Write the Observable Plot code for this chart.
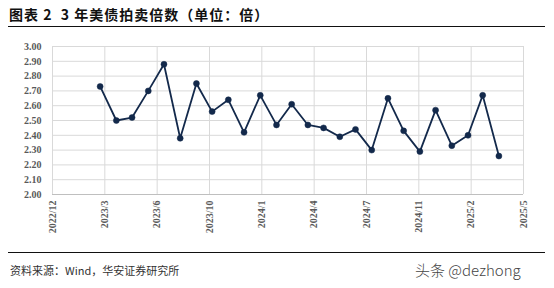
<!DOCTYPE html>
<html>
<head>
<meta charset="utf-8">
<script src="https://cdn.jsdelivr.net/npm/d3@7"></script>
<script src="https://cdn.jsdelivr.net/npm/@observablehq/plot@0.6"></script>
<style>
  html, body { margin: 0; padding: 0; background: #fff; }
  #wrap { position: relative; width: 554px; height: 288px; overflow: hidden; background: #fff; }
  #title { position: absolute; left: 9px; top: 4px; font-family: "Noto Sans CJK SC", sans-serif; font-weight: 700; font-size: 14px; color: #111; white-space: pre; letter-spacing: 1px; }
  .rule { position: absolute; left: 8px; width: 537px; height: 0; border-top: 1.5px solid #111; }
  #source { position: absolute; left: 10px; top: 262px; font-family: "Noto Sans CJK SC", sans-serif; font-size: 11px; color: #333; white-space: pre; }
  #mark { position: absolute; left: 415px; top: 259px; font-family: "Noto Sans CJK SC", sans-serif; font-size: 15px; color: #444; font-weight: 300; white-space: pre; }
  #chart { position: absolute; left: 0; top: 30px; }
</style>
</head>
<body>
<div id="wrap">
  <div id="title">图表 2  3 年美债拍卖倍数（单位：倍）</div>
  <div class="rule" style="top:26px"></div>
  <div id="chart"></div>
  <div class="rule" style="top:252px"></div>
  <div id="source">资料来源：Wind，华安证券研究所</div>
  <div id="mark">头条 @dezhong</div>
</div>
<script>
// auction dates (3-year US Treasury, monthly)
const dates = [
  "2023-03-08","2023-04-08","2023-05-08","2023-06-08","2023-07-08","2023-08-08",
  "2023-09-08","2023-10-08","2023-11-08","2023-12-08","2024-01-08","2024-02-08",
  "2024-03-08","2024-04-08","2024-05-08","2024-06-08","2024-07-08","2024-08-08",
  "2024-09-08","2024-10-08","2024-11-08","2024-12-08","2025-01-08","2025-02-08",
  "2025-03-08","2025-04-08"
];
// bid-to-cover ratio
const ratios = [
  2.73, 2.50, 2.52, 2.70, 2.88, 2.38,
  2.75, 2.56, 2.64, 2.42, 2.67, 2.47,
  2.61, 2.47, 2.45, 2.39, 2.44, 2.30,
  2.65, 2.43, 2.29, 2.57, 2.33, 2.40,
  2.67, 2.26
];
// x-axis tick dates (every 100 days) and domain
const xTicks = ["2022-12-07","2023-03-17","2023-06-25","2023-10-03","2024-01-11",
                "2024-04-20","2024-07-29","2024-11-06","2025-02-14","2025-05-25"];
const yTicks = [2.0, 2.1, 2.2, 2.3, 2.4, 2.5, 2.6, 2.7, 2.8, 2.9, 3.0];

const data = dates.map((d, i) => ({date: new Date(d), value: ratios[i]}));
const tickDates = xTicks.map(d => new Date(d));
const navy = "#13294b";

const chart = Plot.plot({
  width: 554,
  height: 215,
  marginTop: 16,
  marginBottom: 51,
  marginLeft: 52,
  marginRight: 31,
  style: { fontFamily: "'Liberation Serif', serif", fontSize: "10px", fontWeight: "bold", color: "#595959", background: "transparent" },
  x: { type: "utc", domain: [tickDates[0], tickDates[tickDates.length - 1]] },
  y: { domain: [2.0, 3.0] },
  marks: [
    Plot.gridX(tickDates, { stroke: "#d9d9d9", strokeOpacity: 1 }),
    Plot.gridY(yTicks, { stroke: "#d9d9d9", strokeOpacity: 1 }),
    Plot.ruleY([2.0], { stroke: "#bfbfbf" }),
    Plot.axisX(tickDates, { tickSize: 0, tickPadding: 6, tickRotate: -90, tickFormat: d3.utcFormat("%Y/%-m"), label: null, fill: "#595959" }),
    Plot.axisY(yTicks, { tickSize: 0, tickPadding: 11, tickFormat: d => d.toFixed(2), label: null, fill: "#595959" }),
    Plot.line(data, { x: "date", y: "value", stroke: navy, strokeWidth: 1.8 }),
    Plot.dot(data, { x: "date", y: "value", r: 3, fill: navy, stroke: navy, strokeWidth: 0.5 })
  ]
});
document.getElementById("chart").appendChild(chart);
</script>
</body>
</html>
